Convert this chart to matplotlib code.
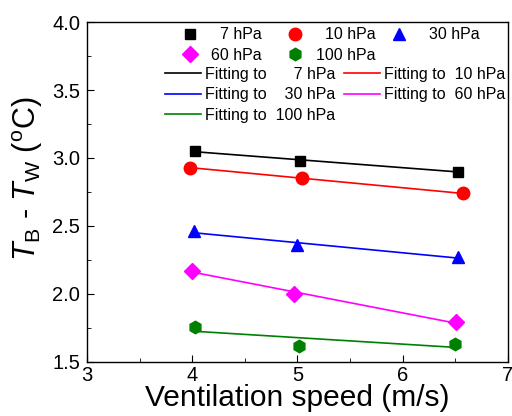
import numpy as np
import matplotlib.pyplot as plt
from matplotlib.ticker import MultipleLocator

plt.rcParams['font.family'] = ['Liberation Sans', 'DejaVu Sans']
plt.rcParams['mathtext.fontset'] = 'custom'
plt.rcParams['mathtext.rm'] = 'Liberation Sans'
plt.rcParams['mathtext.it'] = 'Liberation Sans:italic'

# ventilation speed (m/s) and T_B - T_W (C)
labels = ['  7 hPa  ', '  10 hPa', '  30 hPa', '60 hPa  ', '100 hPa']
speed_7 = [4.03, 5.02, 6.53]
diff_7 = [3.05, 2.98, 2.90]
speed_10 = [3.98, 5.04, 6.57]
diff_10 = [2.93, 2.85, 2.74]
speed_30 = [4.02, 5.00, 6.53]
diff_30 = [2.46, 2.36, 2.27]
speed_60 = [4.00, 4.97, 6.51]
diff_60 = [2.17, 2.00, 1.79]
speed_100 = [4.03, 5.01, 6.50]
diff_100 = [1.76, 1.62, 1.63]

speeds = [speed_7, speed_10, speed_30, speed_60, speed_100]
diffs = [diff_7, diff_10, diff_30, diff_60, diff_100]
colors = ['black', 'red', 'blue', '#ff00ff', 'green']
markers = ['s', 'o', '^', 'D', 'h']
msizes = [7, 9, 9, 8, 9]
fit_labels = ['Fitting to      7 hPa', 'Fitting to  10 hPa', 'Fitting to    30 hPa',
              'Fitting to  60 hPa', 'Fitting to  100 hPa']

fig = plt.figure(figsize=(5.12, 4.16), dpi=100)
ax = fig.add_axes([0.170, 0.130, 0.822, 0.817])

pts = []
fits = []
for x, y, c, m, ms, lab, flab in zip(speeds, diffs, colors, markers, msizes, labels, fit_labels):
    p, = ax.plot(x, y, linestyle='none', marker=m, color=c, markersize=ms, label=lab)
    # linear fit through each series
    k, b = np.polyfit(x, y, 1)
    xx = np.array([x[0], x[-1]])
    f, = ax.plot(xx, k * xx + b, color=c, lw=1.2, label=flab)
    pts.append(p)
    fits.append(f)

ax.set_xlim(3, 7)
ax.set_ylim(1.5, 4.0)
ax.xaxis.set_major_locator(MultipleLocator(1))
ax.xaxis.set_minor_locator(MultipleLocator(0.5))
ax.yaxis.set_major_locator(MultipleLocator(0.5))
ax.yaxis.set_minor_locator(MultipleLocator(0.25))
ax.tick_params(which='both', direction='in', top=False, right=False, labelsize=14.5)
ax.tick_params(which='major', length=5)
ax.tick_params(which='minor', length=3)
ax.tick_params(axis='x', pad=3)
ax.tick_params(axis='y', pad=5)
for s in ax.spines.values():
    s.set_linewidth(1.0)

ax.set_xlabel('Ventilation speed (m/s)', fontsize=21.5, labelpad=-1)
ax.set_ylabel(r'$T_\mathrm{B}$ - $T_\mathrm{W}$ ($^\mathrm{o}$C)', fontsize=22)
ax.yaxis.set_label_coords(-0.10, 0.54)

order1 = [0, 3, 1, 4, 2]
leg1 = ax.legend([pts[i] for i in order1], [labels[i] for i in order1], ncol=3,
                 loc='upper right', bbox_to_anchor=(0.933, 0.984), frameon=False,
                 fontsize=11.5, handlelength=1.0, columnspacing=1.0,
                 handletextpad=0.8, labelspacing=0.35, borderpad=0, borderaxespad=0)
ax.add_artist(leg1)
order2 = [0, 2, 4, 1, 3]
ax.legend([fits[i] for i in order2], [fit_labels[i] for i in order2], ncol=2,
          loc='upper right', bbox_to_anchor=(0.993, 0.869), frameon=False,
          fontsize=11.5, handlelength=2.25, columnspacing=0.5,
          handletextpad=0.25, labelspacing=0.35, borderpad=0, borderaxespad=0)

fig.savefig('out.png', dpi=100)
